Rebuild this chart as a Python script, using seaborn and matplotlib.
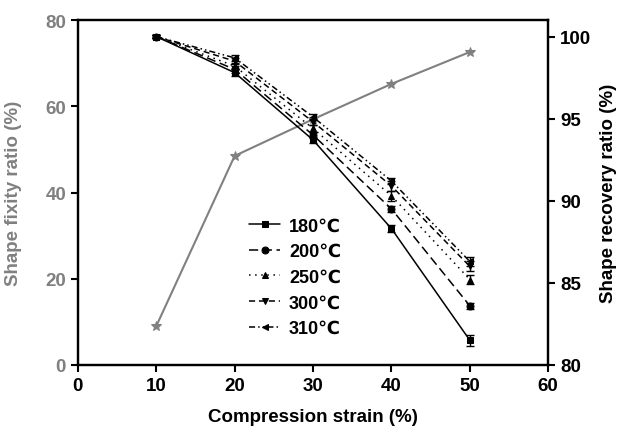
import seaborn as sns
import matplotlib.pyplot as plt
import pandas as pd

# datos
strain = [10, 20, 30, 40, 50]
fixity = [9.0, 48.5, 57.0, 65.2, 72.6]

temps = ["180℃", "200℃", "250℃", "300℃", "310℃"]
recovery = {
    "180℃": [100.0, 97.8, 93.7, 88.3, 81.5],
    "200℃": [100.0, 98.0, 94.0, 89.5, 83.6],
    "250℃": [100.0, 98.2, 94.4, 90.3, 85.2],
    "300℃": [100.0, 98.5, 94.8, 90.9, 86.0],
    "310℃": [100.0, 98.7, 95.1, 91.2, 86.3],
}
recovery_err = {
    "180℃": [0.1, 0.2, 0.2, 0.2, 0.35],
    "200℃": [0.1, 0.2, 0.2, 0.2, 0.2],
    "250℃": [0.1, 0.2, 0.2, 0.3, 0.3],
    "300℃": [0.1, 0.2, 0.2, 0.3, 0.3],
    "310℃": [0.1, 0.2, 0.2, 0.2, 0.3],
}

sns.set_style("ticks")
plt.rcParams["font.family"] = ["Liberation Sans", "DejaVu Sans"]
plt.rcParams["font.weight"] = "bold"
plt.rcParams["text.color"] = "black"
plt.rcParams["axes.labelcolor"] = "black"
plt.rcParams["axes.edgecolor"] = "black"
plt.rcParams["xtick.color"] = "black"
plt.rcParams["ytick.color"] = "black"

gris = "#808080"

df_fix = pd.DataFrame({"strain": strain, "fixity": fixity})
df_rec = pd.DataFrame(
    [(t, s, v) for t in temps for s, v in zip(strain, recovery[t])],
    columns=["temp", "strain", "recovery"],
)

fig = plt.figure(figsize=(6.23, 4.31), dpi=100)
ax = fig.add_axes([0.125, 0.151, 0.755, 0.80])
ax2 = ax.twinx()

sns.lineplot(data=df_fix, x="strain", y="fixity", ax=ax, color=gris,
             marker="*", markersize=7, markeredgecolor=gris, linewidth=1.5)

estilos = {
    "180℃": ("-", "s"),
    "200℃": ((0, (6, 3)), "o"),
    "250℃": ((0, (1, 3)), "^"),
    "300℃": ((0, (4, 2.5)), "v"),
    "310℃": ((0, (4, 2, 1, 2, 1, 2)), "<"),
}
for t in temps:
    ls, mk = estilos[t]
    sub = df_rec[df_rec["temp"] == t]
    sns.lineplot(data=sub, x="strain", y="recovery", ax=ax2, color="black",
                 linestyle=ls, marker=mk, markersize=5, linewidth=1.1,
                 markeredgecolor="black", label=t)
    ax2.errorbar(strain, recovery[t], yerr=recovery_err[t], fmt="none",
                 ecolor="black", elinewidth=1, capsize=3)

ax.set_xlim(0, 60)
ax.set_ylim(0, 80)
ax2.set_ylim(80, 101)
ax.set_xticks(range(0, 61, 10))
ax.set_yticks(range(0, 81, 20))
ax2.set_yticks(range(80, 101, 5))

ax.set_xlabel("Compression strain (%)", fontsize=13.5, fontweight="bold", labelpad=10)
ax.set_ylabel("Shape fixity ratio (%)", fontsize=13.5, fontweight="bold", color=gris,
              labelpad=17)
ax2.set_ylabel("Shape recovery ratio (%)", fontsize=13.5, fontweight="bold", color="black",
               labelpad=6)

ax.tick_params(axis="x", labelsize=13.5, width=1.5, length=5, colors="black")
ax.tick_params(axis="y", labelsize=13.5, width=1.5, length=5, labelcolor=gris)
ax2.tick_params(axis="y", labelsize=13.5, width=1.5, length=5)
for a in (ax, ax2):
    for sp in a.spines.values():
        sp.set_linewidth(1.6)
        sp.set_visible(True)

ax2.legend(loc="upper left", bbox_to_anchor=(0.33, 0.475), frameon=False,
           fontsize=13, handlelength=1.7, labelspacing=0.48, handletextpad=0.5)

fig.savefig("out.png", dpi=100)
